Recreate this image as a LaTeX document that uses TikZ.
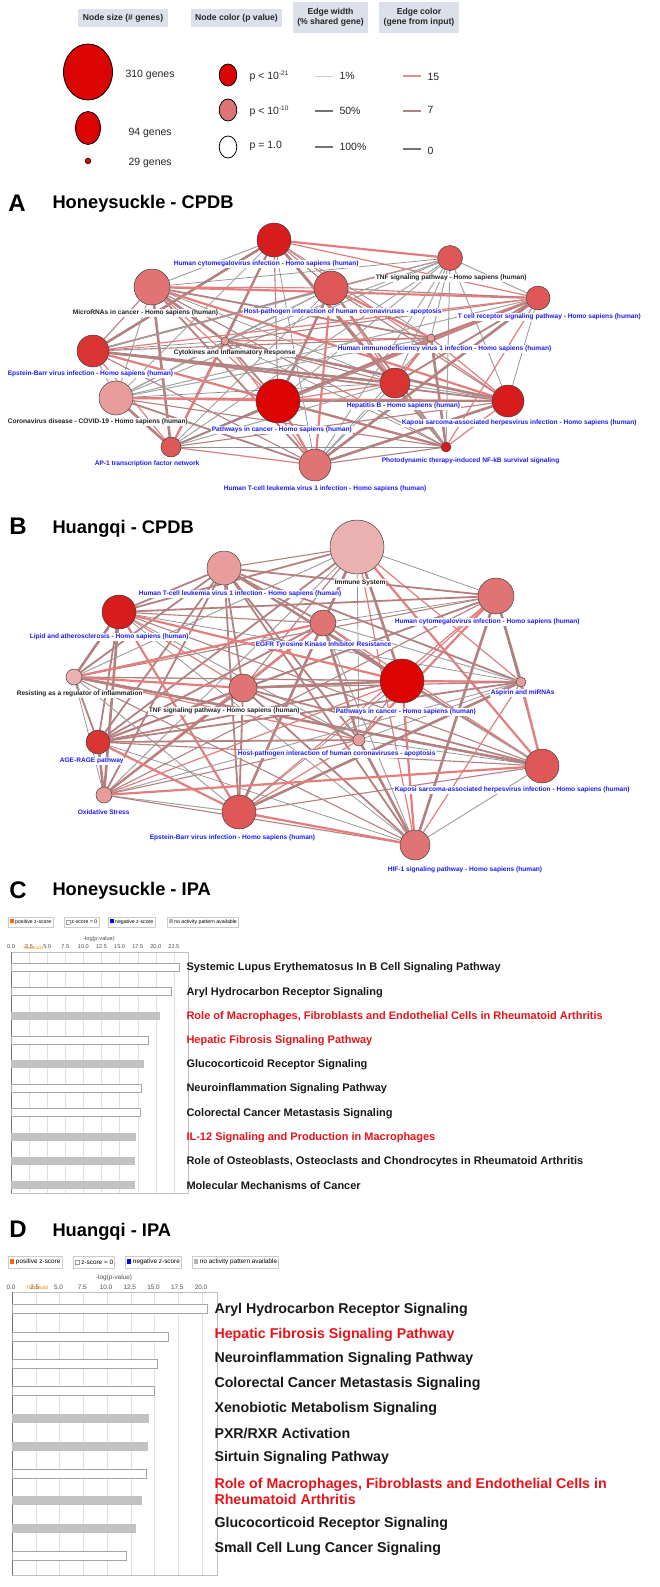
\documentclass[tikz,border=0pt]{standalone}
\usepackage{fontspec}
\setmainfont{Liberation Sans}
\usetikzlibrary{backgrounds}
\pgfdeclarelayer{bottom}
\pgfsetlayers{bottom,background,main}
\definecolor{headbg}{HTML}{DCE0EA}
\definecolor{netblue}{HTML}{1E1EF0}
\definecolor{netblack}{HTML}{222222}
\definecolor{ipared}{HTML}{E8141B}
\definecolor{cdark}{HTML}{DC0303}
\definecolor{cred}{HTML}{D61C1C}
\definecolor{cred2}{HTML}{D83434}
\definecolor{cmid}{HTML}{DE5858}
\definecolor{csal}{HTML}{E07474}
\definecolor{cpink}{HTML}{E89C9C}
\definecolor{clight}{HTML}{EBB0B0}
\definecolor{edred}{HTML}{E47E7E}
\definecolor{edmauve}{HTML}{B58080}
\definecolor{edgray}{HTML}{8C8C8C}
\definecolor{barg}{HTML}{C2C2C2}
\setlength\fboxsep{0pt}
\setlength\fboxrule{0.4pt}
\begin{document}
\begin{tikzpicture}[x=1pt,y=-1pt,
  pn/.style 2 args={circle, draw=black!75, line width=0.5pt, inner sep=0pt, minimum size=#1, fill=#2},
  nlab/.style={font=\fontsize{6.6}{7}\bfseries\selectfont, text=netblue, fill=white, inner sep=0.6pt, anchor=west},
  klab/.style={nlab, text=netblack},
  e0/.style={draw=edred, line width=2.2pt},
  e1/.style={draw=edmauve, line width=1.8pt},
  e2/.style={draw=edgray, line width=0.7pt},
  e3/.style={draw=edmauve, line width=1.1pt},
  e4/.style={draw=edred, line width=1.2pt},
  e5/.style={draw=edmauve, line width=2.6pt},
  e6/.style={draw=edgray!80, line width=1.0pt},
  head/.style={fill=headbg, font=\fontsize{8.6}{10}\bfseries\selectfont, text=black!85, align=center, inner sep=0pt},
  legt/.style={font=\fontsize{10.5}{12}\selectfont, text=black!85, anchor=west},
  plabel/.style={font=\fontsize{24}{28}\bfseries\selectfont, anchor=center},
  ptitle/.style={font=\fontsize{18.3}{22}\bfseries\selectfont, anchor=west},
  wbar/.style={draw=black!35, fill=white, line width=0.6pt},
  gbar/.style={fill=barg},
  clab/.style={font=\fontsize{11}{12}\bfseries\selectfont, anchor=west, text=black!90},
  dlab/.style={font=\fontsize{14.2}{16}\bfseries\selectfont, anchor=west, text=black!90},
  lbox/.style={draw=black!20, fill=white, inner sep=1.5pt, anchor=west},
  tick/.style={font=\fontsize{5.6}{6}\selectfont, text=black!70},
  grid/.style={draw=black!12, line width=0.4pt}
]
\useasboundingbox (0,0) rectangle (660,1587);
\begin{pgfonlayer}{bottom}
\fill[white] (0,0) rectangle (660,1587);
\end{pgfonlayer}

% ================= LEGEND =================
\node[head, minimum width=90pt, minimum height=18pt] (h1) at (123,18) {Node size (\# genes)};
\node[head, minimum width=91pt, minimum height=18pt] (h2) at (236.5,18) {Node color (p value)};
\node[head, minimum width=75pt, minimum height=31pt] (h3) at (330.5,17.5) {Edge width\\(\% shared gene)};
\node[head, minimum width=80pt, minimum height=31pt] (h4) at (419,17.5) {Edge color\\(gene from input)};

\draw[fill=cdark, line width=0.8pt] (88,72) ellipse (24.5pt and 28pt);
\draw[fill=cdark, line width=0.8pt] (88,128) ellipse (12.5pt and 16.5pt);
\draw[fill=cdark, line width=0.6pt] (88,161) circle (2.8pt);
\node[legt] (s1) at (122,75) {310 genes};
\node[legt] (s2) at (125,133) {94 genes};
\node[legt] (s3) at (125,163) {29 genes};

\draw[fill=cdark, line width=0.8pt] (228,75) ellipse (8.8pt and 11pt);
\draw[fill=csal, line width=0.8pt] (228,110) ellipse (8.8pt and 11pt);
\draw[fill=white, line width=0.8pt] (228,147) ellipse (8.8pt and 11pt);
\node[legt] (c1) at (246,76) {p < 10\textsuperscript{\fontsize{6.5}{7}\selectfont -21}};
\node[legt] (c2) at (246,111) {p < 10\textsuperscript{\fontsize{6.5}{7}\selectfont -10}};
\node[legt] (c3) at (246,146) {p = 1.0};

\draw[black!20, line width=0.7pt] (315,76) -- (333,76);
\draw[black!55, line width=1.3pt] (315,111) -- (333,111);
\draw[black!55, line width=2.6pt] (315,147) -- (333,147);
\node[legt] (w1) at (336,76) {1\%};
\node[legt] (w2) at (336,111) {50\%};
\node[legt] (w3) at (336,147) {100\%};

\draw[edred!90, line width=1.6pt] (403,76) -- (421,76);
\draw[edmauve, line width=1.6pt] (403,111) -- (421,111);
\draw[black!55, line width=1.6pt] (403,149) -- (421,149);
\node[legt] (k1) at (424,77) {15};
\node[legt] (k2) at (424,110) {7};
\node[legt] (k3) at (424,151) {0};

% ================= PANEL A =================
\node[plabel] (pA) at (17,203) {A};
\node[ptitle] (tA) at (49,204) {Honeysuckle - CPDB};

\node[pn={34}{cred}]   (a1) at (274,240) {};
\node[pn={36}{csal}]   (a2) at (152,287) {};
\node[pn={34}{cmid}]   (a3) at (331,288) {};
\node[pn={25}{cmid}]   (a4) at (450,258) {};
\node[pn={24}{cmid}]   (a5) at (538,298) {};
\node[pn={8}{cpink}]   (a6) at (225,341) {};
\node[pn={32}{cred2}]  (a7) at (93,351) {};
\node[pn={8}{cpink}]   (a8) at (431,338) {};
\node[pn={34}{cpink}]  (a9) at (116,398) {};
\node[pn={44}{cdark}]  (a10) at (278,401) {};
\node[pn={30}{cred2}]  (a11) at (395,383) {};
\node[pn={32}{cred}]   (a12) at (508,401) {};
\node[pn={20}{cmid}]   (a13) at (171,447) {};
\node[pn={10}{cred}]   (a14) at (446,447) {};
\node[pn={32}{csal}]   (a15) at (315,465) {};

\begin{pgfonlayer}{background}
\foreach \i in {1,...,14}{
  \pgfmathtruncatemacro\nx{\i+1}
  \foreach \j in {\nx,...,15}{
    \pgfmathtruncatemacro\s{mod(\i*5+\j*3+\i*\j,7)}
    \draw[e\s] (a\i) -- (a\j);
  }}
\end{pgfonlayer}

\node[nlab] (la1) at (173,264) {Human cytomegalovirus infection - Homo sapiens (human)};
\node[klab] (la2) at (72,313) {MicroRNAs in cancer - Homo sapiens (human)};
\node[nlab] (la3) at (243,312) {Host-pathogen interaction of human coronaviruses - apoptosis};
\node[klab] (la4) at (375,278) {TNF signaling pathway - Homo sapiens (human)};
\node[nlab] (la5) at (457,317) {T cell receptor signaling pathway - Homo sapiens (human)};
\node[klab] (la6) at (173,353) {Cytokines and Inflammatory Response};
\node[nlab] (la7) at (7,374) {Epstein-Barr virus infection - Homo sapiens (human)};
\node[nlab] (la8) at (337,349) {Human immunodeficiency virus 1 infection - Homo sapiens (human)};
\node[klab] (la9) at (7,422) {Coronavirus disease - COVID-19 - Homo sapiens (human)};
\node[nlab] (la10) at (211,430) {Pathways in cancer - Homo sapiens (human)};
\node[nlab] (la11) at (346,406) {Hepatitis B - Homo sapiens (human)};
\node[nlab] (la12) at (401,423) {Kaposi sarcoma-associated herpesvirus infection - Homo sapiens (human)};
\node[nlab] (la13) at (94,464) {AP-1 transcription factor network};
\node[nlab] (la14) at (381,461) {Photodynamic therapy-induced NF-kB survival signaling};
\node[nlab] (la15) at (223,489) {Human T-cell leukemia virus 1 infection - Homo sapiens (human)};

% ================= PANEL B =================
\node[plabel] (pB) at (18,526) {B};
\node[ptitle] (tB) at (49,529) {Huangqi - CPDB};

\node[pn={54}{clight}] (b1) at (357,547) {};
\node[pn={34}{cpink}]  (b2) at (224,568) {};
\node[pn={36}{csal}]   (b3) at (496,596) {};
\node[pn={34}{cred}]   (b4) at (119,612) {};
\node[pn={26}{csal}]   (b5) at (323,623) {};
\node[pn={16}{clight}] (b6) at (74,677) {};
\node[pn={44}{cdark}]  (b7) at (402,681) {};
\node[pn={10}{cpink}]  (b8) at (521,682) {};
\node[pn={28}{csal}]   (b9) at (243,688) {};
\node[pn={12}{cpink}]  (b10) at (359,740) {};
\node[pn={24}{cred2}]  (b11) at (98,742) {};
\node[pn={34}{cmid}]   (b12) at (542,766) {};
\node[pn={16}{cpink}]  (b13) at (104,795) {};
\node[pn={34}{cmid}]   (b14) at (239,812) {};
\node[pn={30}{csal}]   (b15) at (415,845) {};

\begin{pgfonlayer}{background}
\foreach \i in {1,...,14}{
  \pgfmathtruncatemacro\nx{\i+1}
  \foreach \j in {\nx,...,15}{
    \pgfmathtruncatemacro\s{mod(\i*3+\j*5+\i*\j+2,7)}
    \draw[e\s] (b\i) -- (b\j);
  }}
\end{pgfonlayer}

\node[klab] (lb1) at (334,583) {Immune System};
\node[nlab] (lb2) at (138,594) {Human T-cell leukemia virus 1 infection - Homo sapiens (human)};
\node[nlab] (lb3) at (394,622) {Human cytomegalovirus infection - Homo sapiens (human)};
\node[nlab] (lb4) at (29,637) {Lipid and atherosclerosis - Homo sapiens (human)};
\node[nlab] (lb5) at (255,645) {EGFR Tyrosine Kinase Inhibitor Resistance};
\node[klab] (lb6) at (16,694) {Resisting as a regulator of inflammation};
\node[nlab] (lb7) at (335,712) {Pathways in cancer - Homo sapiens (human)};
\node[nlab] (lb8) at (490,693) {Aspirin and miRNAs};
\node[klab] (lb9) at (148,711) {TNF signaling pathway - Homo sapiens (human)};
\node[nlab] (lb10) at (237,754) {Host-pathogen interaction of human coronaviruses - apoptosis};
\node[nlab] (lb11) at (59,761) {AGE-RAGE pathway};
\node[nlab] (lb12) at (394,790) {Kaposi sarcoma-associated herpesvirus infection - Homo sapiens (human)};
\node[nlab] (lb13) at (77,812) {Oxidative Stress};
\node[nlab] (lb14) at (149,838) {Epstein-Barr virus infection - Homo sapiens (human)};
\node[nlab] (lb15) at (387,870) {HIF-1 signaling pathway - Homo sapiens (human)};

% ================= PANEL C =================
\node[plabel] (pC) at (18,890) {C};
\node[ptitle] (tC) at (49,891) {Honeysuckle - IPA};

\begin{scope}[font=\fontsize{5.2}{6}\selectfont]
\node[lbox, minimum height=10pt] (cl1) at (8,922) {\textcolor{orange!80!red}{\rule{4pt}{4pt}} positive z-score};
\node[lbox, minimum height=10pt] (cl2) at (64,922) {\fcolorbox{black!40}{white}{\rule{0pt}{3.5pt}\hspace{3.5pt}} z-score = 0};
\node[lbox, minimum height=10pt] (cl3) at (108,922) {\textcolor{blue}{\rule{4pt}{4pt}} negative z-score};
\node[lbox, minimum height=10pt] (cl4) at (167,922) {\textcolor{black!30}{\rule{4pt}{4pt}} no activity pattern available};
\end{scope}
\node[tick] (cax) at (99,939) {-log(p-value)};
\foreach \v/\t in {0/0.0,1/2.5,2/5.0,3/7.5,4/10.0,5/12.5,6/15.0,7/17.5,8/20.0,9/22.5}{
  \node[tick] at (11+18.1*\v,947) {\t};
  \draw[grid] (11+18.1*\v,952) -- (11+18.1*\v,1193);
}
\node[font=\fontsize{4.5}{5}\selectfont, text=orange] at (33,948) {Threshold};
\draw[black!25, line width=0.5pt] (11,952) rectangle (188,1193);
\draw[black!55, line width=0.7pt] (11,952) -- (11,1193);

\foreach \i/\e/\k in {0/179/w,1/171/w,2/160/g,3/148/w,4/144/g,5/141/w,6/140/w,7/136/g,8/135/g,9/135/g}{
  \path[\k bar] (11,967.5+24.2*\i-4) rectangle (\e,967.5+24.2*\i+4);
}
\node[clab] (cL1) at (183,968) {Systemic Lupus Erythematosus In B Cell Signaling Pathway};
\node[clab] (cL2) at (183,992.2) {Aryl Hydrocarbon Receptor Signaling};
\node[clab, text=ipared] (cL3) at (183,1016.4) {Role of Macrophages, Fibroblasts and Endothelial Cells in Rheumatoid Arthritis};
\node[clab, text=ipared] (cL4) at (183,1040.6) {Hepatic Fibrosis Signaling Pathway};
\node[clab] (cL5) at (183,1064.8) {Glucocorticoid Receptor Signaling};
\node[clab] (cL6) at (183,1089) {Neuroinflammation Signaling Pathway};
\node[clab] (cL7) at (183,1113.2) {Colorectal Cancer Metastasis Signaling};
\node[clab, text=ipared] (cL8) at (183,1137.4) {IL-12 Signaling and Production in Macrophages};
\node[clab] (cL9) at (183,1161.6) {Role of Osteoblasts, Osteoclasts and Chondrocytes in Rheumatoid Arthritis};
\node[clab] (cL10) at (183,1185.8) {Molecular Mechanisms of Cancer};

% ================= PANEL D =================
\node[plabel] (pD) at (18,1229) {D};
\node[ptitle] (tD) at (49,1232) {Huangqi - IPA};

\begin{scope}[font=\fontsize{6.4}{7}\selectfont]
\node[lbox, minimum height=12pt] (dl1) at (8,1262) {\textcolor{orange!80!red}{\rule{4.5pt}{4.5pt}} positive z-score};
\node[lbox, minimum height=12pt] (dl2) at (73,1262) {\fcolorbox{black!40}{white}{\rule{0pt}{4pt}\hspace{4pt}} z-score = 0};
\node[lbox, minimum height=12pt] (dl3) at (125,1262) {\textcolor{blue}{\rule{4.5pt}{4.5pt}} negative z-score};
\node[lbox, minimum height=12pt] (dl4) at (192,1262) {\textcolor{black!30}{\rule{4.5pt}{4.5pt}} no activity pattern available};
\end{scope}
\node[tick, font=\fontsize{6.4}{7}\selectfont] (dax) at (114,1278) {-log(p-value)};
\foreach \v/\t in {0/0.0,1/2.5,2/5.0,3/7.5,4/10.0,5/12.5,6/15.0,7/17.5,8/20.0}{
  \node[tick, font=\fontsize{6.4}{7}\selectfont] at (11+23.75*\v,1287) {\t};
  \draw[grid] (12+23.75*\v,1292) -- (12+23.75*\v,1575);
}
\node[font=\fontsize{5}{5}\selectfont, text=orange] at (37,1288) {Threshold};
\draw[black!25, line width=0.5pt] (12,1292) rectangle (217,1575);
\draw[black!55, line width=0.7pt] (12,1292) -- (12,1575);

\foreach \i/\e/\k in {0/207/w,1/168/w,2/157/w,3/154/w,4/149/g,5/148/g,6/146/w,7/142/g,8/136/g,9/126/w}{
  \path[\k bar] (12,1309+27.4*\i-4.5) rectangle (\e,1309+27.4*\i+4.5);
}
\node[dlab] (dL1) at (211,1310) {Aryl Hydrocarbon Receptor Signaling};
\node[dlab, text=ipared] (dL2) at (211,1335) {Hepatic Fibrosis Signaling Pathway};
\node[dlab] (dL3) at (211,1359) {Neuroinflammation Signaling Pathway};
\node[dlab] (dL4) at (211,1384) {Colorectal Cancer Metastasis Signaling};
\node[dlab] (dL5) at (211,1409) {Xenobiotic Metabolism Signaling};
\node[dlab] (dL6) at (211,1433) {PXR/RXR Activation};
\node[dlab] (dL7) at (211,1458) {Sirtuin Signaling Pathway};
\node[dlab, text=ipared, align=left] (dL8) at (211,1491.5) {Role of Macrophages, Fibroblasts and Endothelial Cells in\\Rheumatoid Arthritis};
\node[dlab] (dL9) at (211,1524) {Glucocorticoid Receptor Signaling};
\node[dlab] (dL10) at (211,1549) {Small Cell Lung Cancer Signaling};
\end{tikzpicture}
\end{document}
